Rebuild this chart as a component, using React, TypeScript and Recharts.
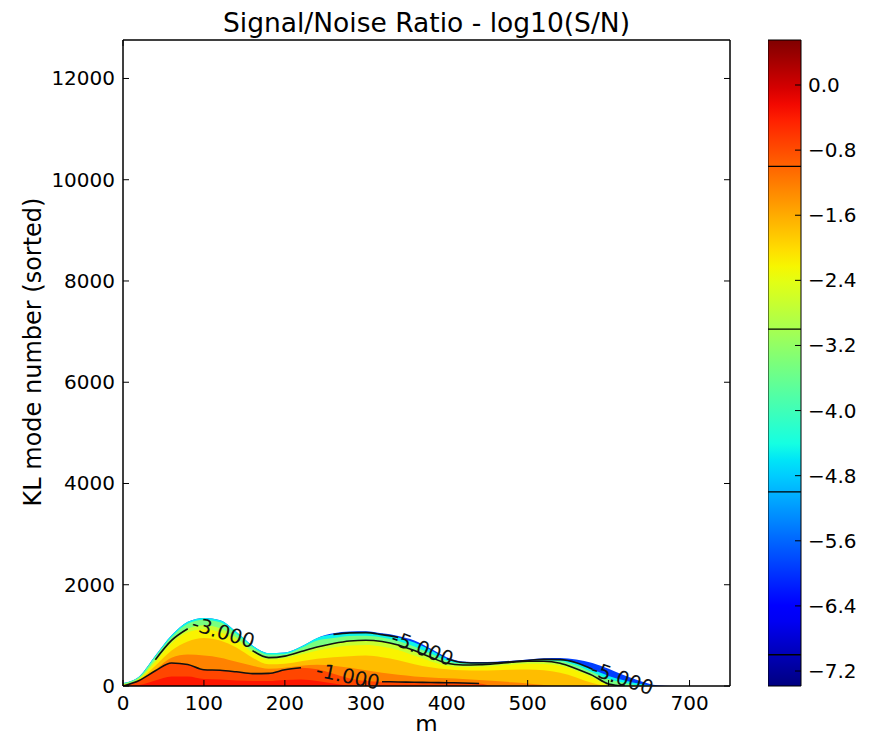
import React from 'react';
import {
  ComposedChart,
  Area,
  Line,
  XAxis,
  YAxis,
  ReferenceDot,
  ReferenceArea,
  ReferenceLine,
} from 'recharts';

// ---------------- data ----------------
// m (x) sample grid
const mGrid = [0, 20, 40, 60, 80, 100, 120, 140, 160, 180, 200, 220, 240, 260, 280, 300, 320, 340,
  360, 380, 400, 420, 440, 460, 480, 500, 520, 540, 560, 580, 600, 620, 640, 660, 680];

// outer boundary of the data (KL mode number)
const edgeLevel = [60, 190, 600, 1000, 1270, 1345, 1300, 1070, 800, 650, 660, 780, 950, 1040, 1075, 1080, 1040, 990,
  900, 740, 570, 485, 475, 480, 500, 525, 550, 552, 525, 455, 340, 205, 95, 15, 0];
// log10(S/N) = -5 contour (equals edge where the level is not reached)
const minus5Level = [60, 190, 600, 1000, 1270, 1345, 1300, 1070, 800, 650, 660, 780, 950, 1020, 1050, 1055, 1015, 960,
  860, 710, 540, 465, 455, 460, 480, 505, 525, 520, 460, 330, 200, 110, 40, 0, 0];
// -4 level (green / cyan transition)
const minus4Level = [55, 180, 580, 970, 1230, 1310, 1260, 1030, 770, 620, 630, 750, 900, 950, 990, 995, 960, 890,
  780, 640, 500, 445, 440, 450, 470, 495, 510, 495, 410, 270, 140, 60, 10, 0, 0];
// -3 contour
const minus3Level = [30, 150, 520, 900, 1130, 1200, 1140, 960, 700, 560, 590, 680, 770, 840, 890, 905, 880, 810,
  700, 570, 450, 415, 420, 440, 470, 490, 490, 450, 340, 210, 40, 0, 0, 0, 0];
// -2.5 level (yellow-green / yellow transition)
const minus25Level = [25, 140, 480, 840, 1060, 1120, 1060, 900, 660, 520, 545, 620, 700, 760, 800, 810, 780, 710,
  600, 490, 400, 375, 380, 395, 420, 440, 435, 400, 300, 170, 20, 0, 0, 0, 0];
// -2 level (yellow / orange transition)
const minus2Level = [20, 120, 400, 700, 880, 950, 900, 760, 560, 430, 440, 490, 540, 570, 590, 600, 570, 510,
  430, 370, 330, 310, 305, 310, 320, 325, 310, 260, 170, 60, 0, 0, 0, 0, 0];
// -1.5 level
const minus15Level = [10, 80, 320, 560, 620, 600, 560, 480, 400, 340, 360, 400, 420, 400, 360, 310, 260, 220,
  190, 170, 155, 140, 120, 100, 75, 50, 20, 0, 0, 0, 0, 0, 0, 0, 0];
// -1 contour
const minus1Level = [0, 110, 300, 455, 425, 320, 310, 280, 245, 250, 320, 360, 330, 240, 150, 100, 85, 80,
  75, 70, 65, 60, 50, 0, 0, 0, 0, 0, 0, 0, 0, 0, 0, 0, 0];
// -0.5 level
const minus05Level = [0, 20, 110, 190, 190, 140, 130, 110, 100, 100, 120, 130, 100, 50, 10, 0, 0, 0,
  0, 0, 0, 0, 0, 0, 0, 0, 0, 0, 0, 0, 0, 0, 0, 0, 0];

// where the drawn contour lines are visible (gaps = inline labels)
const minus1Visible = [[0, 220], [320, 440]];
const minus3Visible = [[40, 80], [160, 620]];
const minus5Visible = [[260, 340], [400, 580]];

// inline contour labels
const contourLabelText = ['-3.000', '-1.000', '-5.000', '-5.000'];
const contourLabelM = [124, 278, 370, 617];
const contourLabelY = [1060, 195, 745, 150];
const contourLabelAngle = [17, 12, 21, 19];

// axes
const xTicks = [0, 100, 200, 300, 400, 500, 600, 700];
const yTicks = [0, 2000, 4000, 6000, 8000, 10000, 12000];
const X_MAX = 750;
const Y_MAX = 12760;

// colorbar
const CB_MIN = -7.384;
const CB_MAX = 0.553;
const cbTicks = [0, -0.8, -1.6, -2.4, -3.2, -4.0, -4.8, -5.6, -6.4, -7.2];
const cbContourLines = [-1, -3, -5, -7];

// ---------------- helpers ----------------
const FONT = '"DejaVu Sans", "Liberation Sans", sans-serif';

function piece(pts: number[][], t: number) {
  if (t <= pts[0][0]) return pts[0][1];
  for (let i = 1; i < pts.length; i++) {
    if (t <= pts[i][0]) {
      const [t0, v0] = pts[i - 1];
      const [t1, v1] = pts[i];
      return v0 + ((v1 - v0) * (t - t0)) / (t1 - t0);
    }
  }
  return pts[pts.length - 1][1];
}
function jet(t: number) {
  const r = piece([[0, 0], [0.35, 0], [0.66, 1], [0.89, 1], [1, 0.5]], t);
  const g = piece([[0, 0], [0.125, 0], [0.375, 1], [0.64, 1], [0.91, 0], [1, 0]], t);
  const b = piece([[0, 0.5], [0.11, 1], [0.34, 1], [0.65, 0], [1, 0]], t);
  const h = (v: number) => Math.round(Math.max(0, Math.min(1, v)) * 255).toString(16).padStart(2, '0');
  return `#${h(r)}${h(g)}${h(b)}`;
}
const jetV = (v: number) => jet((v - CB_MIN) / (CB_MAX - CB_MIN));

const inRanges = (m: number, ranges: number[][]) => ranges.some(([a, b]) => m >= a && m <= b);

const table = mGrid.map((m, i) => ({
  m,
  edge: edgeLevel[i],
  c5: minus5Level[i],
  c4: minus4Level[i],
  c3: minus3Level[i],
  c25: minus25Level[i],
  c2: minus2Level[i],
  c15: minus15Level[i],
  c1: minus1Level[i],
  c05: minus05Level[i],
  l1: inRanges(m, minus1Visible) ? minus1Level[i] : null,
  l3: inRanges(m, minus3Visible) ? minus3Level[i] : null,
  l5: inRanges(m, minus5Visible) ? minus5Level[i] : null,
}));

// band key -> representative log10(S/N) value for its colour
const bands: [string, number][] = [
  ['edge', -5.9],
  ['c5', -4.5],
  ['c4', -3.45],
  ['c3', -2.7],
  ['c25', -2.2],
  ['c2', -1.75],
  ['c15', -1.25],
  ['c1', -0.75],
  ['c05', -0.35],
];

const cbData = [{ x: 0 }, { x: 1 }];

// ---------------- tick renderers ----------------
const BottomTick = (p: any) => (
  <g>
    <line x1={p.x} x2={p.x} y1={p.y} y2={p.y - 6} stroke="#000" strokeWidth={1} />
    <text x={p.x} y={p.y + 24} textAnchor="middle" fontSize={20} fontFamily={FONT} fill="#000">
      {p.payload.value}
    </text>
  </g>
);
const TopTick = (p: any) => (
  <line x1={p.x} x2={p.x} y1={p.y} y2={p.y + 6} stroke="#000" strokeWidth={1} />
);
const LeftTick = (p: any) => (
  <g>
    <line x1={p.x} x2={p.x + 6} y1={p.y} y2={p.y} stroke="#000" strokeWidth={1} />
    <text x={p.x - 8} y={p.y + 7} textAnchor="end" fontSize={20} fontFamily={FONT} fill="#000">
      {p.payload.value}
    </text>
  </g>
);
const RightTick = (p: any) => (
  <line x1={p.x} x2={p.x - 6} y1={p.y} y2={p.y} stroke="#000" strokeWidth={1} />
);
const fmtCb = (v: number) => (Math.abs(v) < 1e-9 ? '0.0' : (v < 0 ? '\u2212' : '') + Math.abs(v).toFixed(1));
const CbTick = (p: any) => (
  <g>
    <line x1={p.x - 6} x2={p.x} y1={p.y} y2={p.y} stroke="#000" strokeWidth={1} />
    <text x={p.x + 7} y={p.y + 7} textAnchor="start" fontSize={20} fontFamily={FONT} fill="#000">
      {fmtCb(p.payload.value)}
    </text>
  </g>
);

const cbStops = Array.from({ length: 41 }, (_, i) => i / 40);

export default function App() {
  return (
    <div
      style={{
        position: 'absolute',
        left: 0,
        top: 0,
        width: 871,
        height: 731,
        overflow: 'hidden',
        background: '#fff',
        fontFamily: FONT,
      }}
    >
      {/* title */}
      <div
        style={{
          position: 'absolute',
          left: 123,
          width: 607,
          top: 9,
          textAlign: 'center',
          fontSize: 26.5,
          lineHeight: '28px',
          color: '#000',
          whiteSpace: 'nowrap',
        }}
      >
        Signal/Noise Ratio - log10(S/N)
      </div>
      {/* y label */}
      <div
        style={{
          position: 'absolute',
          left: 33,
          top: 352,
          transform: 'translate(-50%, -50%) rotate(-90deg)',
          fontSize: 24,
          lineHeight: '24px',
          whiteSpace: 'nowrap',
          color: '#000',
        }}
      >
        KL mode number (sorted)
      </div>
      {/* x label */}
      <div
        style={{
          position: 'absolute',
          left: 123,
          width: 607,
          top: 713,
          textAlign: 'center',
          fontSize: 23,
          lineHeight: '23px',
          color: '#000',
        }}
      >
        m
      </div>

      <div style={{ position: 'absolute', left: 0, top: 0 }}>
        <ComposedChart
          width={871}
          height={731}
          data={table}
          margin={{ top: 39, right: 140, bottom: 0, left: 0 }}
        >
          <XAxis
            dataKey="m"
            type="number"
            domain={[0, X_MAX]}
            ticks={xTicks}
            interval={0}
            tick={BottomTick}
            tickLine={false}
            tickSize={0}
            tickMargin={0}
            height={45}
            axisLine={{ stroke: '#000', strokeWidth: 1 }}
            allowDataOverflow
          />
          <XAxis
            xAxisId="top"
            orientation="top"
            type="number"
            domain={[0, X_MAX]}
            ticks={xTicks}
            interval={0}
            tick={TopTick}
            tickLine={false}
            tickSize={0}
            tickMargin={0}
            height={1}
            axisLine={{ stroke: '#000', strokeWidth: 1 }}
            allowDataOverflow
          />
          <YAxis
            type="number"
            domain={[0, Y_MAX]}
            ticks={yTicks}
            interval={0}
            tick={LeftTick}
            tickLine={false}
            tickSize={0}
            tickMargin={0}
            width={123}
            axisLine={{ stroke: '#000', strokeWidth: 1 }}
            allowDataOverflow
          />
          <YAxis
            yAxisId="right"
            orientation="right"
            type="number"
            domain={[0, Y_MAX]}
            ticks={yTicks}
            interval={0}
            tick={RightTick}
            tickLine={false}
            tickSize={0}
            tickMargin={0}
            width={1}
            axisLine={{ stroke: '#000', strokeWidth: 1 }}
            allowDataOverflow
          />

          {bands.map(([key, v]) => (
            <Area
              key={key}
              dataKey={key}
              type="monotone"
              stroke="none"
              fill={jetV(v)}
              fillOpacity={1}
              isAnimationActive={false}
              dot={false}
              activeDot={false}
            />
          ))}

          {['l1', 'l3', 'l5'].map((k) => (
            <Line
              key={k}
              dataKey={k}
              type="monotone"
              stroke="#111"
              strokeWidth={1.6}
              dot={false}
              activeDot={false}
              connectNulls={false}
              isAnimationActive={false}
            />
          ))}

          {contourLabelText.map((txt, i) => (
            <ReferenceDot
              key={i}
              x={contourLabelM[i]}
              y={contourLabelY[i]}
              r={0}
              ifOverflow="hidden"
              shape={(p: any) => (
                <text
                  x={p.cx}
                  y={p.cy}
                  transform={`rotate(${contourLabelAngle[i]} ${p.cx} ${p.cy})`}
                  textAnchor="middle"
                  dominantBaseline="central"
                  fontSize={20}
                  fontFamily={FONT}
                  fill="#111"
                >
                  {txt}
                </text>
              )}
            />
          ))}

          {/* axes frame */}
          <ReferenceArea
            x1={0}
            x2={X_MAX}
            y1={0}
            y2={Y_MAX}
            fill="none"
            fillOpacity={0}
            stroke="#000"
            strokeWidth={1}
            ifOverflow="visible"
          />
        </ComposedChart>
      </div>

      <div style={{ position: 'absolute', left: 768, top: 0 }}>
        <ComposedChart
          width={103}
          height={731}
          data={cbData}
          margin={{ top: 40, right: 0, bottom: 45, left: 0 }}
        >
          <defs>
            <linearGradient id="jetBar" x1="0" y1="1" x2="0" y2="0">
              {cbStops.map((t) => (
                <stop key={t} offset={`${t * 100}%`} stopColor={jet(t)} />
              ))}
            </linearGradient>
          </defs>
          <XAxis dataKey="x" type="number" domain={[0, 1]} hide />
          <YAxis
            orientation="right"
            type="number"
            domain={[CB_MIN, CB_MAX]}
            ticks={cbTicks}
            interval={0}
            tick={CbTick}
            tickLine={false}
            tickSize={0}
            tickMargin={0}
            axisLine={false}
            width={70}
            allowDataOverflow
          />
          <ReferenceArea
            y1={CB_MIN}
            y2={CB_MAX}
            fill="url(#jetBar)"
            fillOpacity={1}
            stroke="#000"
            strokeWidth={1}
          />
          {cbContourLines.map((v) => (
            <ReferenceLine key={v} y={v} stroke="#000" strokeWidth={1.3} />
          ))}
        </ComposedChart>
      </div>
    </div>
  );
}
